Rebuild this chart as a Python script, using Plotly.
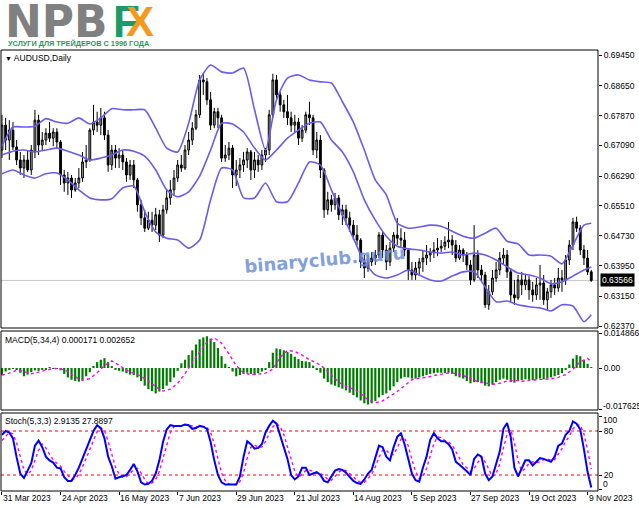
import plotly.graph_objects as go

# ---------------- data ----------------
date_labels = ["31 Mar 2023", "24 Apr 2023", "16 May 2023", "7 Jun 2023", "29 Jun 2023",
               "21 Jul 2023", "14 Aug 2023", "5 Sep 2023", "27 Sep 2023", "19 Oct 2023", "9 Nov 2023"]
date_bar_index = [0, 16, 32, 48, 64, 80, 96, 112, 128, 144, 160]

open_ = [.6697,.6762,.6723,.6749,.6705,.6671,.6650,.6671,.6645,.6692,
         .6775,.6710,.6723,.6741,.6728,.6744,.6718,.6632,.6611,.6624,
         .6593,.6611,.6624,.6666,.6671,.6749,.6770,.6762,.6781,.6736,
         .6658,.6697,.6676,.6684,.6666,.6632,.6658,.6619,.6554,.6520,
         .6493,.6514,.6501,.6528,.6475,.6541,.6572,.6593,.6624,.6658,
         .6650,.6697,.6723,.6754,.6789,.6880,.6875,.6828,.6762,.6797,
         .6781,.6676,.6684,.6702,.6632,.6645,.6658,.6671,.6692,.6645,
         .6671,.6658,.6684,.6697,.6789,.6880,.6841,.6815,.6797,.6781,
         .6762,.6770,.6728,.6749,.6789,.6781,.6697,.6723,.6645,.6541,
         .6567,.6554,.6572,.6528,.6541,.6520,.6501,.6475,.6462,.6405,
         .6389,.6405,.6415,.6423,.6475,.6436,.6405,.6441,.6475,.6467,
         .6462,.6436,.6384,.6371,.6389,.6405,.6415,.6423,.6431,.6436,
         .6441,.6446,.6457,.6462,.6449,.6415,.6436,.6423,.6397,.6358,
         .6423,.6384,.6371,.6293,.6327,.6363,.6384,.6415,.6423,.6379,
         .6319,.6311,.6358,.6345,.6358,.6332,.6319,.6345,.6350,.6306,
         .6327,.6345,.6337,.6363,.6358,.6410,.6449,.6509,.6493,.6436,
         .6415,.6379]
high = [.6789,.6781,.6775,.6770,.6723,.6692,.6684,.6697,.6710,.6802,
        .6789,.6744,.6754,.6770,.6754,.6754,.6723,.6645,.6640,.6632,
        .6624,.6650,.6692,.6710,.6754,.6815,.6797,.6807,.6797,.6749,
        .6710,.6710,.6702,.6697,.6676,.6671,.6671,.6624,.6567,.6541,
        .6536,.6536,.6546,.6541,.6554,.6593,.6619,.6645,.6671,.6684,
        .6710,.6744,.6770,.6802,.6893,.6896,.6885,.6849,.6807,.6807,
        .6789,.6710,.6718,.6710,.6671,.6676,.6692,.6702,.6697,.6692,
        .6684,.6697,.6702,.6802,.6896,.6893,.6849,.6828,.6841,.6797,
        .6789,.6781,.6762,.6797,.6823,.6789,.6744,.6736,.6650,.6588,
        .6580,.6585,.6580,.6554,.6554,.6536,.6514,.6501,.6467,.6423,
        .6423,.6431,.6436,.6483,.6483,.6449,.6457,.6483,.6520,.6493,
        .6483,.6441,.6405,.6405,.6415,.6436,.6449,.6441,.6457,.6467,
        .6462,.6472,.6509,.6475,.6462,.6449,.6441,.6431,.6410,.6501,
        .6436,.6397,.6379,.6345,.6384,.6405,.6431,.6441,.6436,.6389,
        .6358,.6371,.6379,.6371,.6368,.6353,.6363,.6397,.6371,.6337,
        .6358,.6363,.6389,.6384,.6423,.6462,.6520,.6523,.6501,.6449,
        .6436,.6384]
low = [.6676,.6697,.6671,.6697,.6658,.6632,.6624,.6640,.6632,.6676,
       .6684,.6697,.6710,.6718,.6707,.6702,.6606,.6588,.6580,.6572,
       .6588,.6598,.6614,.6650,.6666,.6736,.6744,.6736,.6723,.6640,
       .6645,.6650,.6650,.6645,.6614,.6619,.6598,.6536,.6501,.6483,
       .6488,.6483,.6488,.6457,.6467,.6531,.6554,.6580,.6614,.6640,
       .6645,.6684,.6710,.6749,.6781,.6841,.6815,.6749,.6754,.6754,
       .6666,.6666,.6671,.6598,.6603,.6624,.6640,.6650,.6619,.6624,
       .6640,.6645,.6666,.6684,.6781,.6828,.6797,.6781,.6762,.6744,
       .6744,.6710,.6718,.6741,.6762,.6684,.6676,.6624,.6520,.6528,
       .6536,.6541,.6514,.6501,.6501,.6483,.6462,.6449,.6389,.6363,
       .6379,.6394,.6397,.6415,.6415,.6384,.6394,.6431,.6449,.6441,
       .6420,.6358,.6358,.6358,.6371,.6379,.6397,.6405,.6415,.6420,
       .6431,.6436,.6441,.6423,.6405,.6410,.6405,.6384,.6345,.6353,
       .6363,.6353,.6285,.6280,.6319,.6353,.6371,.6397,.6363,.6301,
       .6293,.6306,.6319,.6332,.6306,.6301,.6306,.6306,.6293,.6280,
       .6311,.6319,.6327,.6327,.6345,.6397,.6436,.6483,.6423,.6397,
       .6371,.6353]
close = [.6762,.6723,.6749,.6705,.6671,.6650,.6671,.6645,.6697,.6775,
         .6710,.6723,.6741,.6728,.6744,.6718,.6632,.6611,.6624,.6593,
         .6611,.6624,.6666,.6671,.6749,.6770,.6762,.6781,.6736,.6658,
         .6697,.6676,.6684,.6666,.6632,.6658,.6619,.6554,.6520,.6493,
         .6514,.6501,.6528,.6475,.6541,.6572,.6593,.6624,.6658,.6650,
         .6697,.6723,.6754,.6789,.6880,.6875,.6828,.6762,.6797,.6781,
         .6676,.6684,.6702,.6632,.6645,.6658,.6671,.6692,.6645,.6671,
         .6658,.6684,.6697,.6789,.6880,.6841,.6815,.6797,.6781,.6762,
         .6770,.6728,.6749,.6789,.6781,.6697,.6723,.6645,.6541,.6567,
         .6554,.6572,.6528,.6541,.6520,.6501,.6475,.6462,.6405,.6389,
         .6405,.6415,.6423,.6475,.6436,.6405,.6441,.6475,.6467,.6462,
         .6436,.6384,.6371,.6389,.6405,.6415,.6423,.6431,.6436,.6441,
         .6446,.6457,.6462,.6449,.6415,.6436,.6423,.6397,.6358,.6423,
         .6384,.6371,.6293,.6327,.6363,.6384,.6415,.6423,.6379,.6319,
         .6311,.6358,.6345,.6358,.6332,.6319,.6345,.6350,.6306,.6327,
         .6345,.6337,.6363,.6358,.6410,.6449,.6509,.6493,.6436,.6415,
         .6379,.63566]
last_price = 0.63566

# Bollinger bands, sampled every 3 bars (plus the last bar)
band_index = list(range(0, 160, 3)) + [161]
bb_upper = [.6707,.6757,.6757,.6759,.6779,.6770,.6767,.6781,.6765,.6781,
            .6805,.6802,.6802,.6802,.6754,.6702,.6692,.6767,.6880,.6919,
            .6901,.6898,.6911,.6802,.6697,.6828,.6885,.6893,.6880,.6875,
            .6872,.6823,.6770,.6697,.6619,.6580,.6506,.6493,.6496,.6501,
            .6498,.6485,.6472,.6467,.6480,.6493,.6459,.6452,.6423,.6423,
            .6420,.6400,.6449,.6501,.6506]
bb_middle = [.6684,.6694,.6697,.6692,.6697,.6702,.6694,.6684,.6671,.6676,
             .6684,.6697,.6694,.6681,.6645,.6593,.6575,.6588,.6629,.6697,
             .6767,.6765,.6744,.6702,.6671,.6697,.6728,.6749,.6767,.6770,
             .6723,.6692,.6640,.6567,.6514,.6472,.6446,.6439,.6436,.6431,
             .6428,.6431,.6423,.6428,.6423,.6410,.6392,.6376,.6371,.6363,
             .6348,.6353,.6368,.6384,.6392]
bb_lower = [.6635,.6645,.6632,.6624,.6635,.6637,.6619,.6593,.6572,.6567,
            .6570,.6598,.6603,.6536,.6483,.6467,.6462,.6441,.6462,.6567,
            .6650,.6645,.6572,.6572,.6611,.6562,.6562,.6611,.6666,.6658,
            .6593,.6528,.6467,.6405,.6371,.6363,.6371,.6384,.6371,.6358,
            .6355,.6368,.6379,.6379,.6340,.6301,.6303,.6293,.6288,.6285,
            .6277,.6293,.6290,.6249,.6267]

price_ticks = [0.69450, 0.68650, 0.67870, 0.67090, 0.66290, 0.65510, 0.64730, 0.63950, 0.63150, 0.62370]

macd_hist = [-0.0030,-0.0015,-0.0005,-0.0003,-0.0008,-0.0020,-0.0035,-0.0028,-0.0018,-0.0010,
             -0.0012,-0.0008,-0.0005,0.0002,-0.0002,-0.0004,-0.0010,-0.0025,-0.0040,-0.0050,
             -0.0055,-0.0058,-0.0050,-0.0035,-0.0018,0.0005,0.0025,0.0035,0.0042,0.0025,
             0.0005,-0.0005,-0.0012,-0.0015,-0.0022,-0.0028,-0.0030,-0.0040,-0.0055,-0.0075,
             -0.0090,-0.0098,-0.0108,-0.0100,-0.0090,-0.0075,-0.0060,-0.0040,-0.0012,0.0020,
             0.0035,0.0055,0.0075,0.0100,0.0122,0.0130,0.0135,0.0125,0.0110,0.0085,
             0.0050,0.0018,0.0002,-0.0015,-0.0035,-0.0030,-0.0025,-0.0020,-0.0025,-0.0030,
             -0.0022,-0.0015,-0.0005,0.0025,0.0065,0.0083,0.0080,0.0075,0.0068,0.0060,
             0.0048,0.0038,0.0030,0.0028,0.0025,0.0010,-0.0005,-0.0020,-0.0045,-0.0060,
             -0.0070,-0.0075,-0.0082,-0.0088,-0.0095,-0.0105,-0.0115,-0.0125,-0.0138,-0.0150,
             -0.0155,-0.0150,-0.0140,-0.0125,-0.0115,-0.0108,-0.0095,-0.0078,-0.0060,-0.0045,
             -0.0038,-0.0040,-0.0045,-0.0045,-0.0040,-0.0035,-0.0030,-0.0025,-0.0022,-0.0020,
             -0.0020,-0.0022,-0.0020,-0.0025,-0.0035,-0.0040,-0.0045,-0.0055,-0.0065,-0.0060,
             -0.0060,-0.0065,-0.0075,-0.0078,-0.0070,-0.0060,-0.0050,-0.0045,-0.0050,-0.0060,
             -0.0062,-0.0055,-0.0052,-0.0048,-0.0050,-0.0052,-0.0048,-0.0045,-0.0048,-0.0045,
             -0.0040,-0.0035,-0.0030,-0.0022,-0.0005,0.0015,0.0040,0.0055,0.0050,0.0035,
             0.0018,0.000171]
signal_index = list(range(0, 161, 2)) + [161]
macd_signal = [-0.0030,-0.0022,-0.0010,-0.0015,-0.0025,-0.0018,-0.0010,-0.0002,-0.0003,-0.0015,
               -0.0038,-0.0052,-0.0045,-0.0020,0.0010,0.0030,0.0012,-0.0010,-0.0022,-0.0035,
               -0.0055,-0.0080,-0.0098,-0.0090,-0.0065,-0.0025,0.0025,0.0070,0.0110,0.0128,
               0.0105,0.0060,0.0010,-0.0020,-0.0028,-0.0026,-0.0022,-0.0005,0.0045,0.0075,
               0.0070,0.0055,0.0035,0.0022,0.0000,-0.0030,-0.0060,-0.0078,-0.0090,-0.0108,
               -0.0135,-0.0148,-0.0140,-0.0120,-0.0100,-0.0075,-0.0050,-0.0043,-0.0040,-0.0032,
               -0.0025,-0.0021,-0.0023,-0.0032,-0.0045,-0.0058,-0.0063,-0.0070,-0.0065,-0.0055,
               -0.0052,-0.0057,-0.0052,-0.0050,-0.0048,-0.0046,-0.0040,-0.0028,-0.0006,0.0027,
               0.0040,0.002652]
macd_ticks = [0.014866, 0.0, -0.017625]
macd_tick_text = ["0.014866", "0.00", "-0.017625"]

stoch_k = [75,80,78,70,44,22,16,25,36,60, 67,58,45,40,37,30,29,17,12,12,
           20,30,42,54,68,80,88,84,70,45, 32,15,17,18,20,27,35,25,10,7,
           8,12,22,40,65,82,88,87,87,87, 89,88,83,84,87,86,83,65,40,20,
           10,7,7,7,7,18,45,66,62,56, 57,62,78,87,94,90,75,60,42,20,
           14,18,30,30,20,22,24,20,12,10, 18,26,28,27,23,17,12,9,8,14,
           22,27,45,60,58,45,40,58,72,77, 62,40,22,13,11,30,45,68,77,70,
           66,66,62,55,38,34,30,25,20,42, 48,45,22,13,18,35,52,83,91,72,
           30,18,28,40,40,33,38,43,42,40, 38,45,60,63,75,80,93,90,82,55,
           24,2.9135]
stoch_d = [67,73,78,76,64,45,27,21,26,40, 54,62,57,48,41,36,32,25,19,14,
           15,21,31,42,55,67,79,84,81,66, 49,31,21,17,18,22,27,29,23,14,
           8,9,14,25,42,62,78,86,87,87, 88,88,87,85,85,86,85,78,63,42,
           23,12,8,7,7,11,23,43,58,61, 58,58,66,76,86,90,86,75,59,41,
           25,17,21,26,27,24,22,22,19,14, 13,18,24,27,26,22,17,13,10,10,
           15,21,31,44,54,54,48,48,57,69, 70,60,41,25,15,18,29,48,63,72,
           71,67,65,61,52,42,34,30,25,29, 37,45,38,27,18,22,35,57,75,82,
           64,40,25,29,36,38,37,38,41,42, 40,41,48,56,66,73,83,88,88,76,
           54,27.8897]
stoch_levels = [80, 20]
stoch_ticks = [0, 20, 80, 100]

bars = list(range(len(close)))

# ---------------- layout helpers (pixels -> paper) ----------------
W, H = 639, 508
ML, MR, MT, MB = 1, 41, 50, 17
PW, PH = W - ML - MR, H - MT - MB


def px(xp):
    return (xp - ML) / PW


def py(yp):
    return (H - MB - yp) / PH


price_dom = [py(328), 1.0]
macd_dom = [py(410), py(331)]
stoch_dom = [0.0, py(413)]

FONT = "Liberation Sans"
BAND = "#6a5cf0"
TF = dict(family=FONT, size=8.5, color="black")

fig = go.Figure()

fig.add_trace(go.Candlestick(
    x=bars, open=open_, high=high, low=low, close=close,
    increasing=dict(line=dict(color="black", width=1), fillcolor="#a6a6a6"),
    decreasing=dict(line=dict(color="black", width=1), fillcolor="black"),
    whiskerwidth=0, showlegend=False, hoverinfo="skip", xaxis="x", yaxis="y"))

for band in (bb_upper, bb_middle, bb_lower):
    fig.add_trace(go.Scatter(x=band_index, y=band, mode="lines",
                             line=dict(color=BAND, width=1.6, shape="spline", smoothing=0.6),
                             showlegend=False, hoverinfo="skip", xaxis="x", yaxis="y"))

fig.add_trace(go.Bar(x=bars, y=macd_hist, marker=dict(color="#007d00", line=dict(width=0)),
                     width=0.6, showlegend=False, hoverinfo="skip", xaxis="x", yaxis="y2"))
fig.add_trace(go.Scatter(x=signal_index, y=macd_signal, mode="lines",
                         line=dict(color="#ff00ff", width=1.4, dash="dot"),
                         showlegend=False, hoverinfo="skip", xaxis="x", yaxis="y2"))

fig.add_trace(go.Scatter(x=bars, y=stoch_d, mode="lines",
                         line=dict(color="#ff00ff", width=1.4, dash="dot"),
                         showlegend=False, hoverinfo="skip", xaxis="x", yaxis="y3"))
fig.add_trace(go.Scatter(x=bars, y=stoch_k, mode="lines",
                         line=dict(color="#0000ff", width=2),
                         showlegend=False, hoverinfo="skip", xaxis="x", yaxis="y3"))

axis_common = dict(showgrid=False, zeroline=False, showline=False, ticks="outside",
                   ticklen=3, tickcolor="black", tickfont=TF)

fig.update_layout(
    width=W, height=H, margin=dict(l=ML, r=MR, t=MT, b=MB, pad=0),
    paper_bgcolor="white", plot_bgcolor="white",
    font=TF,
    bargap=0.3,
    xaxis=dict(domain=[0, 1], range=[-0.27, 162.84], anchor="y3",
               tickvals=date_bar_index, ticktext=[""] * len(date_bar_index),
               rangeslider=dict(visible=False), **axis_common),
    yaxis=dict(domain=price_dom, range=[0.62325, 0.69581], side="right", anchor="x",
               tickvals=price_ticks, ticktext=[f"{v:.5f}" for v in price_ticks], **axis_common),
    yaxis2=dict(domain=macd_dom, range=[-0.01784, 0.01572], side="right", anchor="x",
                tickvals=macd_ticks, ticktext=[macd_tick_text[0], macd_tick_text[1], ""], **axis_common),
    yaxis3=dict(domain=stoch_dom, range=[-1.8, 104.6], side="right", anchor="x",
                tickvals=stoch_ticks, ticktext=["", "20", "80", ""], **axis_common),
)

shapes = []
shapes.append(dict(type="line", xref="paper", yref="y", x0=0, x1=1, y0=last_price, y1=last_price,
                   line=dict(color="#c8c8c8", width=1), layer="below"))
for lv in stoch_levels:
    shapes.append(dict(type="line", xref="paper", yref="y3", x0=0, x1=1, y0=lv, y1=lv,
                       line=dict(color="#ff0000", width=1, dash="3px,3px"), layer="below"))
for dom in (price_dom, macd_dom, stoch_dom):
    shapes.append(dict(type="rect", xref="paper", yref="paper", x0=0, x1=1, y0=dom[0], y1=dom[1],
                       line=dict(color="black", width=1), fillcolor="rgba(0,0,0,0)"))
fig.update_layout(shapes=shapes)

ann = []
# logo
ann.append(dict(xref="paper", yref="paper", x=px(3), y=py(21), xanchor="left", yanchor="middle",
                text="<b>NPB</b>", showarrow=False,
                font=dict(family="DejaVu Sans", size=44, color="#808080")))
ann.append(dict(xref="paper", yref="paper", x=px(111), y=py(21), xanchor="left", yanchor="middle",
                text="<b>F</b>", showarrow=False,
                font=dict(family="Liberation Sans", size=44, color="#1e9a6a")))
ann.append(dict(xref="paper", yref="paper", x=px(124), y=py(21), xanchor="left", yanchor="middle",
                text="<b>X</b>", showarrow=False,
                font=dict(family="Liberation Sans", size=42, color="#f39a1e")))
ann.append(dict(xref="paper", yref="paper", x=px(6), y=py(43.5), xanchor="left", yanchor="middle",
                text="<b>УСЛУГИ ДЛЯ ТРЕЙДЕРОВ С 1996 ГОДА</b>", showarrow=False,
                font=dict(family="Liberation Sans", size=7.3, color="#1e9a5e")))
# panel titles
ann.append(dict(xref="paper", yref="paper", x=px(3), y=py(58), xanchor="left", yanchor="middle",
                text="<span style='font-size:7px'>▼</span> AUDUSD,Daily", showarrow=False, font=TF))
ann.append(dict(xref="paper", yref="paper", x=px(3), y=py(340), xanchor="left", yanchor="middle",
                text=f"MACD(5,34,4) {macd_hist[-1]:.6f} {macd_signal[-1]:.6f}", showarrow=False, font=TF))
ann.append(dict(xref="paper", yref="paper", x=px(3), y=py(421), xanchor="left", yanchor="middle",
                text=f"Stoch(5,3,3) {stoch_k[-1]:.4f} {stoch_d[-1]:.4f}", showarrow=False, font=TF))
# edge labels pinned inside their panels (terminal style)
ann.append(dict(xref="paper", yref="paper", x=1, y=py(406), xanchor="left", yanchor="middle",
                xshift=3, text=macd_tick_text[2], showarrow=False, font=TF))
ann.append(dict(xref="paper", yref="paper", x=1, y=py(420), xanchor="left", yanchor="middle",
                xshift=3, text=str(stoch_ticks[3]), showarrow=False, font=TF))
ann.append(dict(xref="paper", yref="paper", x=1, y=py(484), xanchor="left", yanchor="middle",
                xshift=3, text=str(stoch_ticks[0]), showarrow=False, font=TF))
# date labels (left aligned at their bar, as in the terminal)
for idx, lab in zip(date_bar_index, date_labels):
    ann.append(dict(xref="x", yref="paper", x=idx, y=py(498), xanchor="left", yanchor="middle",
                    xshift=-1, text=lab, showarrow=False, font=TF))
# current price box
ann.append(dict(xref="paper", yref="y", x=1, y=last_price, xanchor="left", yanchor="middle",
                xshift=2, text=f"{last_price:.5f}", showarrow=False, bgcolor="black",
                borderpad=1, font=dict(family=FONT, size=8.5, color="white")))
# watermark
ann.append(dict(xref="paper", yref="paper", x=px(324), y=py(259), xanchor="center", yanchor="middle",
                text="<b>binaryclub.guru</b>", showarrow=False, textangle=-5, opacity=0.85,
                font=dict(family="DejaVu Sans", size=18, color="#6e8fd8")))
fig.update_layout(annotations=ann)

fig.write_html("out.html", config={"displayModeBar": False},
               post_script="document.body.style.margin='0px';document.body.style.overflow='hidden';")
